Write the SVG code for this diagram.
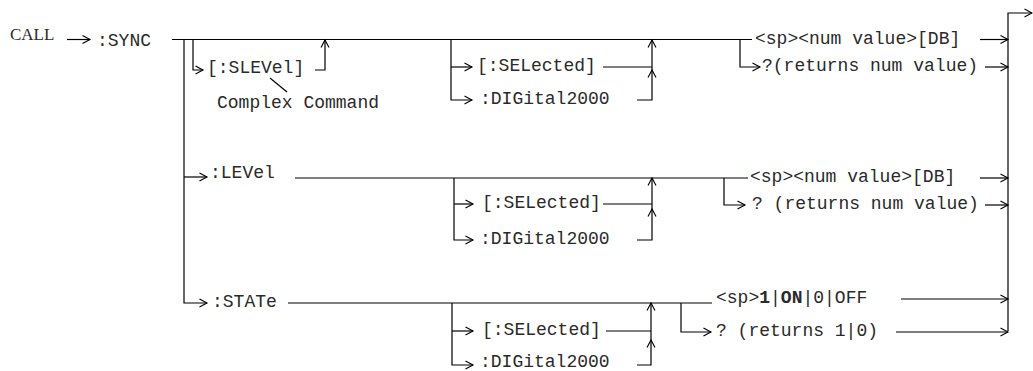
<svg xmlns="http://www.w3.org/2000/svg" width="1033" height="371" viewBox="0 0 1033 371">
<style>
.t{font-family:"Liberation Mono","Courier New",monospace;font-size:18px;fill:#2a2a2a}
.s{font-family:"Liberation Serif","Times New Roman",serif;font-size:17px;fill:#2a2a2a}
.c path{fill:none;stroke:#000;stroke-width:1.2}
.a{marker-end:url(#ah)}
</style>
<defs>
<marker id="ah" markerUnits="userSpaceOnUse" markerWidth="12" markerHeight="12" refX="9" refY="5" orient="auto">
<path d="M1.5,1 L9,5 L1.5,9" fill="none" stroke="#000" stroke-width="1.1"/>
</marker>
</defs>
<rect width="1033" height="371" fill="#fff"/>
<g class="c" id="connectors">
<path class="a" d="M67,39.5 H90"/>
<path d="M172,39.5 H752"/>
<path class="a" d="M184,39.5 V303 H207"/>
<path class="a" d="M184,177 H207"/>
<path class="a" d="M193,39.5 V70 H203"/>
<path class="a" d="M315,70 H325 V40"/>
<path d="M270,78 L287,92"/>
<path class="a" d="M451,39.5 V100 H472"/>
<path class="a" d="M451,67 H472"/>
<path d="M603,67 H652"/>
<path class="a" d="M637,100 H652 V70"/>
<path class="a" d="M652,70 V40"/>
<path class="a" d="M740,39.5 V67 H760"/>
<path class="a" d="M980,39.5 H1008"/>
<path class="a" d="M985,67 H1008"/>
<path class="a" d="M1008,331 V13 H1032"/>
<path d="M295,178 H748"/>
<path class="a" d="M454,178 V240 H473"/>
<path class="a" d="M454,204 H473"/>
<path d="M603,204 H652"/>
<path class="a" d="M637,240 H652 V209"/>
<path class="a" d="M652,209 V178"/>
<path class="a" d="M724,178 V205 H745"/>
<path class="a" d="M980,178 H1008"/>
<path class="a" d="M985,205 H1008"/>
<path d="M288,303 H712"/>
<path class="a" d="M452,303 V365 H473"/>
<path class="a" d="M452,331 H473"/>
<path d="M606,331 H651"/>
<path class="a" d="M637,365 H651 V340"/>
<path class="a" d="M651,340 V303"/>
<path class="a" d="M681,303 V332 H711"/>
<path class="a" d="M901,299 H1008"/>
<path class="a" d="M896,332 H1008"/>
</g>
<g id="call"><text class="s" x="10" y="40">CALL</text></g>
<g id="sync"><text class="t" x="97" y="46">:SYNC</text></g>
<g id="slevel"><text class="t" x="207" y="73">[:SLEVel]</text></g>
<g id="complex"><text class="t" x="217" y="108">Complex Command</text></g>
<g id="sel1"><text class="t" x="477" y="71">[:SELected]</text></g>
<g id="dig1"><text class="t" x="480" y="104">:DIGital2000</text></g>
<g id="num1"><text class="t" x="755" y="44">&lt;sp&gt;&lt;num value&gt;[DB]</text></g>
<g id="q1"><text class="t" x="762" y="71">?(returns num value)</text></g>
<g id="level"><text class="t" x="210" y="178">:LEVel</text></g>
<g id="sel2"><text class="t" x="482" y="208">[:SELected]</text></g>
<g id="dig2"><text class="t" x="480" y="244">:DIGital2000</text></g>
<g id="num2"><text class="t" x="750" y="182">&lt;sp&gt;&lt;num value&gt;[DB]</text></g>
<g id="q2"><text class="t" x="752" y="209">? (returns num value)</text></g>
<g id="state"><text class="t" x="212" y="307">:STATe</text></g>
<g id="sel3"><text class="t" x="482" y="335">[:SELected]</text></g>
<g id="dig3"><text class="t" x="480" y="367">:DIGital2000</text></g>
<g id="onoff"><text class="t" x="716" y="303">&lt;sp&gt;<tspan font-weight="bold">1</tspan>|<tspan font-weight="bold">ON</tspan>|0|OFF</text></g>
<g id="q3"><text class="t" x="716" y="336">? (returns 1|0)</text></g>
</svg>
